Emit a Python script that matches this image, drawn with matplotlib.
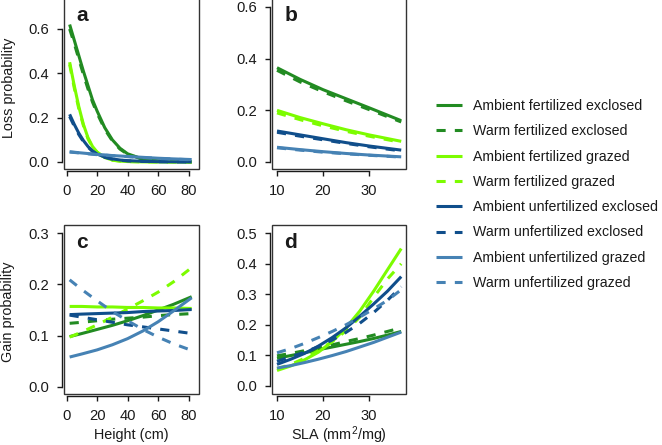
import matplotlib
matplotlib.use("Agg")
import matplotlib.pyplot as plt
from matplotlib.patches import Rectangle

plt.rcParams['font.family'] = ['Liberation Sans', 'DejaVu Sans']
plt.rcParams['mathtext.fontset'] = 'custom'
plt.rcParams['mathtext.rm'] = 'Liberation Sans'

# ---------------- data ----------------
labels = ["Ambient fertilized exclosed", "Warm fertilized exclosed",
          "Ambient fertilized grazed", "Warm fertilized grazed",
          "Ambient unfertilized exclosed", "Warm unfertilized exclosed",
          "Ambient unfertilized grazed", "Warm unfertilized grazed"]
colors = ["#228B22", "#228B22", "#7CFC00", "#7CFC00",
          "#104E8B", "#104E8B", "#4682B4", "#4682B4"]
dashed = [False, True, False, True, False, True, False, True]

# Panel a: loss probability vs height
height_a = [2, 5, 8, 11, 14, 17, 20, 25, 30, 35, 40, 50, 60, 70, 82]
loss_height = [
    [0.62, 0.55, 0.48, 0.41, 0.345, 0.28, 0.23, 0.155, 0.10, 0.062, 0.037, 0.013, 0.005, 0.002, 0.001],
    [0.60, 0.535, 0.465, 0.395, 0.33, 0.27, 0.22, 0.148, 0.095, 0.058, 0.035, 0.012, 0.004, 0.002, 0.001],
    [0.45, 0.345, 0.25, 0.17, 0.11, 0.07, 0.045, 0.02, 0.009, 0.004, 0.002, 0.0005, 0.0002, 0.0001, 0.0],
    [0.44, 0.335, 0.24, 0.165, 0.105, 0.067, 0.043, 0.019, 0.008, 0.004, 0.002, 0.0005, 0.0002, 0.0001, 0.0],
    [0.215, 0.17, 0.13, 0.097, 0.07, 0.05, 0.036, 0.022, 0.014, 0.009, 0.006, 0.003, 0.0015, 0.001, 0.0005],
    [0.205, 0.162, 0.124, 0.092, 0.067, 0.048, 0.034, 0.021, 0.013, 0.008, 0.005, 0.0025, 0.0012, 0.0008, 0.0004],
    [0.046, 0.044, 0.042, 0.040, 0.038, 0.036, 0.034, 0.032, 0.029, 0.027, 0.025, 0.021, 0.017, 0.014, 0.011],
    [0.045, 0.043, 0.041, 0.039, 0.037, 0.035, 0.033, 0.031, 0.028, 0.026, 0.024, 0.020, 0.016, 0.013, 0.010],
]

# Panel b: loss probability vs SLA
sla_b = [10, 15, 20, 25, 30, 37]
loss_sla = [
    [0.365, 0.32, 0.28, 0.245, 0.21, 0.16],
    [0.355, 0.31, 0.272, 0.237, 0.203, 0.155],
    [0.20, 0.172, 0.148, 0.125, 0.105, 0.08],
    [0.19, 0.164, 0.14, 0.119, 0.10, 0.076],
    [0.12, 0.105, 0.09, 0.075, 0.062, 0.046],
    [0.115, 0.10, 0.086, 0.072, 0.059, 0.043],
    [0.057, 0.048, 0.04, 0.033, 0.027, 0.02],
    [0.055, 0.046, 0.038, 0.032, 0.026, 0.019],
]

# Panel c: gain probability vs height
height_c = [2, 10, 20, 30, 40, 50, 60, 70, 82]
gain_height = [
    [0.098, 0.104, 0.112, 0.120, 0.129, 0.139, 0.150, 0.161, 0.176],
    [0.124, 0.126, 0.129, 0.132, 0.134, 0.136, 0.139, 0.141, 0.143],
    [0.157, 0.157, 0.156, 0.156, 0.155, 0.155, 0.154, 0.154, 0.153],
    [0.097, 0.107, 0.121, 0.136, 0.152, 0.168, 0.185, 0.205, 0.233],
    [0.141, 0.142, 0.143, 0.144, 0.145, 0.147, 0.148, 0.149, 0.151],
    [0.140, 0.136, 0.131, 0.126, 0.121, 0.117, 0.113, 0.109, 0.104],
    [0.058, 0.064, 0.072, 0.082, 0.094, 0.109, 0.127, 0.148, 0.174],
    [0.209, 0.190, 0.168, 0.147, 0.129, 0.112, 0.097, 0.084, 0.071],
]

# Panel d: gain probability vs SLA
sla_d = [10, 13, 16, 19, 22, 25, 28, 31, 34, 37]
gain_sla = [
    [0.090, 0.099, 0.108, 0.118, 0.127, 0.136, 0.145, 0.155, 0.166, 0.178],
    [0.098, 0.106, 0.115, 0.124, 0.134, 0.145, 0.155, 0.166, 0.178, 0.190],
    [0.050, 0.065, 0.085, 0.110, 0.145, 0.190, 0.245, 0.310, 0.380, 0.450],
    [0.055, 0.070, 0.090, 0.115, 0.145, 0.180, 0.225, 0.290, 0.350, 0.400],
    [0.070, 0.087, 0.106, 0.130, 0.158, 0.190, 0.228, 0.268, 0.310, 0.358],
    [0.080, 0.095, 0.110, 0.128, 0.150, 0.175, 0.205, 0.240, 0.280, 0.325],
    [0.058, 0.066, 0.076, 0.087, 0.099, 0.112, 0.127, 0.142, 0.159, 0.176],
    [0.108, 0.122, 0.139, 0.158, 0.178, 0.200, 0.225, 0.252, 0.280, 0.315],
]

# ---------------- figure ----------------
W, H = 662, 445
fig = plt.figure(figsize=(W / 100, H / 100), dpi=100)
txt = "#1a1a1a"


def px_axes(left, top, right, bottom):
    return fig.add_axes([left / W, 1 - bottom / H, (right - left) / W, (bottom - top) / H])


def style(ax, xticks, xlim, yticks, ylim, letter):
    ax.set_xlim(*xlim)
    ax.set_ylim(*ylim)
    for s in ax.spines.values():
        s.set_visible(False)
    for side in ("left", "bottom"):
        sp = ax.spines[side]
        sp.set_visible(True)
        sp.set_position(("outward", 1.5))
        sp.set_linewidth(1.0)
        sp.set_color(txt)
    ax.spines["left"].set_bounds(yticks[0], yticks[-1])
    ax.spines["bottom"].set_bounds(xticks[0], xticks[-1])
    ax.add_patch(Rectangle((0, 0), 1, 1, transform=ax.transAxes, fill=False,
                           lw=1.0, edgecolor="#333333", clip_on=False, zorder=5))
    ax.set_xticks(xticks)
    ax.set_yticks(yticks)
    ax.set_yticklabels([f"{v:.1f}" for v in yticks])
    ax.tick_params(direction="out", length=3.6, width=1.0, color=txt,
                   labelsize=10.6, labelcolor=txt, pad=5.6)
    ax.annotate(letter, xy=(0, 1), xycoords="axes fraction", xytext=(9, -16.5),
                textcoords="offset points", fontsize=15, fontweight="bold",
                ha="left", va="baseline", color=txt)


def draw(ax, xs, series):
    handles = []
    for vals, c, d in zip(series, colors, dashed):
        ln, = ax.plot(xs, vals, color=c, lw=2.2, solid_capstyle="butt",
                      dash_capstyle="butt")
        if d:
            ln.set_dashes((3, 3))
        handles.append(ln)
    return handles


ax_a = px_axes(64, -2, 199, 169)
ax_b = px_axes(272, -2, 406, 169)
ax_c = px_axes(64, 225, 199, 394)
ax_d = px_axes(272, 225, 406, 394)

handles = draw(ax_a, height_a, loss_height)
draw(ax_b, sla_b, loss_sla)
draw(ax_c, height_c, gain_height)
draw(ax_d, sla_d, gain_sla)

style(ax_a, [0, 20, 40, 60, 80], (-1.7, 86.8), [0.0, 0.2, 0.4, 0.6], (-0.0316, 0.7396), "a")
style(ax_b, [10, 20, 30], (8.91, 38.04), [0.0, 0.2, 0.4, 0.6], (-0.0271, 0.6348), "b")
style(ax_c, [0, 20, 40, 60, 80], (-1.7, 86.8), [0.0, 0.1, 0.2, 0.3], (-0.0143, 0.3163), "c")
style(ax_d, [10, 20, 30], (8.91, 38.04), [0.0, 0.1, 0.2, 0.3, 0.4, 0.5], (-0.0272, 0.5273), "d")

fig.text(9 / W, 1 - 88 / H, "Loss probability", rotation=90, ha="center", va="center",
         fontsize=10.4, color=txt)
fig.text(8 / W, 1 - 312 / H, "Gain probability", rotation=90, ha="center", va="center",
         fontsize=10.4, color=txt)
fig.text(131.5 / W, 1 - 439.5 / H, "Height (cm)", ha="center", va="baseline",
         fontsize=10.4, color=txt)
fig.text(339 / W, 1 - 439.5 / H, r"SLA (mm$^\mathregular{2}$/mg)", ha="center", va="baseline",
         fontsize=10.4, color=txt)

fig.legend(handles, labels, loc="center left", bbox_to_anchor=(436 / W, 1 - 194.5 / H),
           frameon=False, borderpad=0, borderaxespad=0, handlelength=1.85,
           handletextpad=0.78, labelspacing=0.8, fontsize=10.2, labelcolor=txt)

fig.savefig("out.png", dpi=100)
